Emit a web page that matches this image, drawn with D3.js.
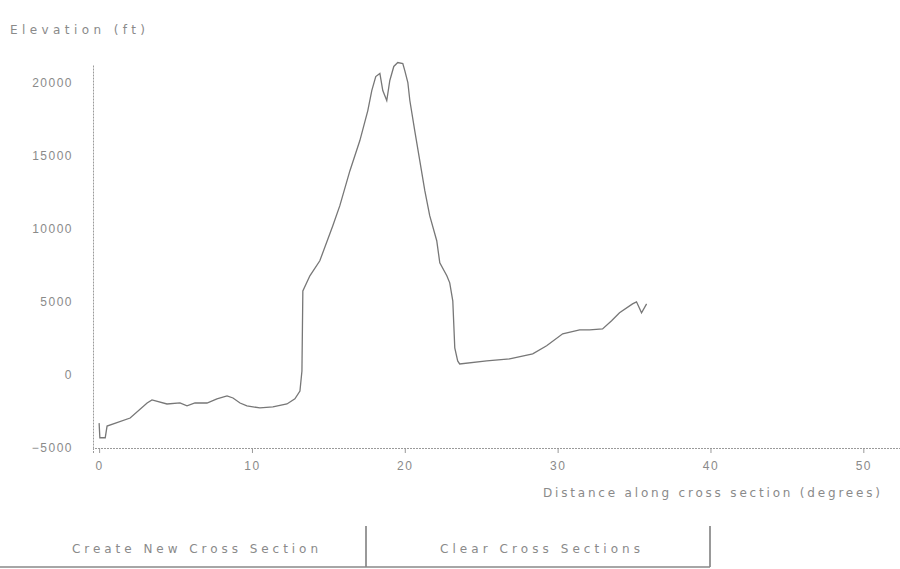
<!DOCTYPE html>
<html>
<head>
<meta charset="utf-8">
<script src="https://cdn.jsdelivr.net/npm/d3@7"></script>
<style>
  body { margin: 0; background: #fff; }
  svg { display: block; font-family: "DejaVu Sans", sans-serif; }
</style>
</head>
<body>
<div id="chart"></div>
<script>
// cross section profile
var distance = [0, 0.05, 0.4, 0.52, 2.03, 3.14, 3.46, 4.44, 5.29, 5.75, 6.27, 7.06, 7.71, 8.37, 8.76, 9.22, 9.67,
  10.52, 11.37, 12.29, 12.81, 13.14, 13.27, 13.33, 13.79, 14.44, 15.29, 15.75, 16.41, 17.06, 17.58, 17.84,
  18.10, 18.37, 18.56, 18.82, 19.02, 19.28, 19.54, 19.87, 20.0, 20.2, 20.33, 20.65, 20.98, 21.31, 21.63,
  22.09, 22.29, 22.75, 22.94, 23.14, 23.27, 23.46, 23.59, 25.36, 26.86, 28.37, 29.28, 30.33, 31.44, 32.09,
  32.94, 33.53, 34.05, 34.90, 35.16, 35.49, 35.82];
var elevation = [-3300, -4300, -4300, -3500, -2950, -1920, -1710, -1990, -1920, -2120, -1920, -1920, -1640, -1440, -1580, -1920, -2120,
  -2260, -2190, -1990, -1640, -1100, 270, 5750, 6780, 7810, 10200, 11580, 13970, 16030, 18080, 19450,
  20410, 20620, 19450, 18770, 20140, 21100, 21370, 21300, 20820, 20000, 18770, 16710, 14660, 12600, 10890,
  9180, 7670, 6780, 6300, 5070, 1850, 960, 750, 960, 1100, 1440, 1990, 2810, 3080, 3080,
  3150, 3700, 4250, 4860, 5000, 4250, 4860];

var xTicks = [0, 10, 20, 30, 40, 50];
var yTicks = [20000, 15000, 10000, 5000, 0, -5000];
var yTitle = "Elevation (ft)";
var xTitle = "Distance along cross section (degrees)";
var buttonLabels = ["Create New Cross Section", "Clear Cross Sections"];

var width = 900, height = 569;
var grey = "#8a8a8a";

var svg = d3.select("#chart").append("svg")
    .attr("width", width)
    .attr("height", height);

var x = d3.scaleLinear().domain([-0.4, 52.4]).range([93, 900]);
var y = d3.scaleLinear().domain([-5000, 21200]).range([448, 65]);

// axes
var xAxis = svg.append("g")
    .attr("transform", "translate(0," + y(-5000) + ")")
    .call(d3.axisBottom(x).tickValues(xTicks).tickSize(5).tickPadding(8).tickFormat(d3.format("d")));
var yAxis = svg.append("g")
    .attr("transform", "translate(" + x(-0.4) + ",0)")
    .call(d3.axisLeft(y).tickValues(yTicks).tickSize(0).tickPadding(20).tickFormat(d3.format("d")));

[xAxis, yAxis].forEach(function(g) {
    g.select(".domain").attr("stroke", "#9a9a9a").attr("stroke-dasharray", "2,1");
    g.selectAll(".tick line").attr("stroke", "#9a9a9a");
    g.selectAll(".tick text")
        .attr("fill", grey)
        .style("font-size", "12px")
        .style("letter-spacing", "1.5px");
});

// profile line
var line = d3.line()
    .x(function(d, i) { return x(distance[i]); })
    .y(function(d) { return y(d); });

svg.append("path")
    .datum(elevation)
    .attr("d", line)
    .attr("fill", "none")
    .attr("stroke", "#777")
    .attr("stroke-width", 1.3);

// titles
svg.append("text")
    .attr("x", 10).attr("y", 34)
    .attr("textLength", 135).attr("lengthAdjust", "spacing")
    .attr("fill", grey)
    .style("font-size", "12px")
    .text(yTitle);

svg.append("text")
    .attr("x", 543).attr("y", 497)
    .attr("textLength", 337).attr("lengthAdjust", "spacing")
    .attr("fill", grey)
    .style("font-size", "12px")
    .text(xTitle);

// buttons
var btnX = d3.scaleOrdinal().domain(buttonLabels).range([[0, 366], [366, 710]]);
var btnText = d3.scaleOrdinal().domain(buttonLabels).range([[72, 246], [440, 200]]);
var btnTop = 526, btnBottom = 567;
var btn = svg.selectAll(".btn").data(buttonLabels).enter().append("g").attr("class", "btn");
btn.append("line")
    .attr("x1", function(d) { return btnX(d)[1]; })
    .attr("x2", function(d) { return btnX(d)[1]; })
    .attr("y1", btnTop).attr("y2", btnBottom)
    .attr("stroke", "#777").attr("stroke-width", 1.5);
btn.append("line")
    .attr("x1", function(d) { return btnX(d)[0]; })
    .attr("x2", function(d) { return btnX(d)[1]; })
    .attr("y1", btnBottom).attr("y2", btnBottom)
    .attr("stroke", "#888").attr("stroke-width", 1.5);
btn.append("text")
    .attr("x", function(d) { return btnText(d)[0]; })
    .attr("y", 553)
    .attr("textLength", function(d) { return btnText(d)[1]; })
    .attr("lengthAdjust", "spacing")
    .attr("fill", grey)
    .style("font-size", "12px")
    .text(function(d) { return d; });
</script>
</body>
</html>
